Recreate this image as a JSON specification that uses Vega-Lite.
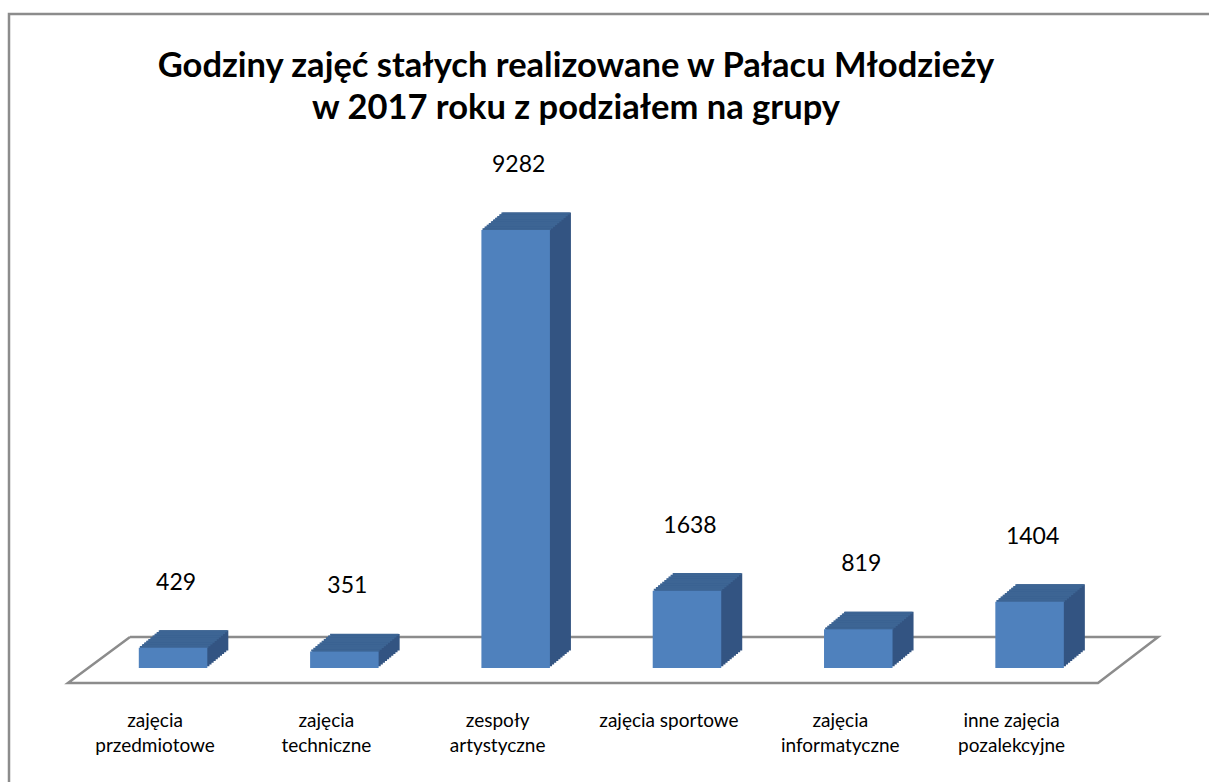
{
  "$schema": "https://vega.github.io/schema/vega-lite/v6.json",
  "width": 1206,
  "height": 776,
  "autosize": {"type": "none"},
  "padding": {"left": 9, "top": 14, "right": 0, "bottom": 0},
  "background": "white",
  "config": {"view": {"stroke": "#8c8c8c", "strokeWidth": 2.5}, "font": "Lato"},
  "title": {
    "text": ["Godziny zajęć stałych realizowane w Pałacu Młodzieży", "w 2017 roku z podziałem na grupy"],
    "font": "Lato",
    "fontSize": 34.5,
    "fontWeight": "bold",
    "color": "#000000",
    "lineHeight": 42,
    "baseline": "alphabetic",
    "anchor": "middle",
    "dx": -36,
    "offset": -139
  },
  "datasets": {
    "grupy": [
      {"grupa": "zajęcia przedmiotowe", "godziny": 429, "etykieta": "zajęcia\nprzedmiotowe"},
      {"grupa": "zajęcia techniczne", "godziny": 351, "etykieta": "zajęcia\ntechniczne"},
      {"grupa": "zespoły artystyczne", "godziny": 9282, "etykieta": "zespoły\nartystyczne"},
      {"grupa": "zajęcia sportowe", "godziny": 1638, "etykieta": "zajęcia sportowe"},
      {"grupa": "zajęcia informatyczne", "godziny": 819, "etykieta": "zajęcia\ninformatyczne"},
      {"grupa": "inne zajęcia pozalekcyjne", "godziny": 1404, "etykieta": "inne zajęcia\npozalekcyjne"}
    ],
    "podloga": [
      {"punkt": 0, "pozycja": -0.2516, "wartosc": 657},
      {"punkt": 1, "pozycja": 5.750, "wartosc": 657},
      {"punkt": 2, "pozycja": 5.399, "wartosc": -318},
      {"punkt": 3, "pozycja": -0.614, "wartosc": -318},
      {"punkt": 4, "pozycja": -0.2516, "wartosc": 657}
    ]
  },
  "layer": [
    {
      "data": {"name": "podloga"},
      "mark": {"type": "line", "color": "#8c8c8c", "strokeWidth": 2.5, "strokeJoin": "miter"},
      "encoding": {
        "x": {"field": "pozycja", "type": "quantitative", "axis": null, "scale": {"domain": [-0.958, 6.082], "nice": false, "zero": false}},
        "y": {"field": "wartosc", "type": "quantitative", "axis": null, "scale": {"domain": [-2585, 13860], "nice": false}},
        "order": {"field": "punkt", "type": "quantitative"}
      }
    },
    {
      "data": {"name": "grupy"},
      "encoding": {
        "x": {"field": "grupa", "type": "nominal", "sort": null, "axis": null,
              "scale": {"paddingInner": 0.6, "paddingOuter": 0.82, "align": 0.462}},
        "y": {"field": "godziny", "type": "quantitative", "axis": null, "scale": {"domain": [-2585, 13860], "nice": false}}
      },
      "layer": [
        {"mark": {"type": "bar", "color": "#335482", "xOffset": 2.1, "yOffset": -1.75}},
        {"mark": {"type": "bar", "color": "#335482", "xOffset": 4.2, "yOffset": -3.5}},
        {"mark": {"type": "bar", "color": "#335482", "xOffset": 6.3, "yOffset": -5.25}},
        {"mark": {"type": "bar", "color": "#335482", "xOffset": 8.4, "yOffset": -7}},
        {"mark": {"type": "bar", "color": "#335482", "xOffset": 10.5, "yOffset": -8.75}},
        {"mark": {"type": "bar", "color": "#335482", "xOffset": 12.6, "yOffset": -10.5}},
        {"mark": {"type": "bar", "color": "#335482", "xOffset": 14.7, "yOffset": -12.25}},
        {"mark": {"type": "bar", "color": "#335482", "xOffset": 16.8, "yOffset": -14}},
        {"mark": {"type": "bar", "color": "#335482", "xOffset": 18.9, "yOffset": -15.75}},
        {"mark": {"type": "bar", "color": "#335482", "xOffset": 21, "yOffset": -17.5}},
        {"mark": {"type": "tick", "color": "#3d6594", "size": 68.5, "thickness": 2, "opacity": 1, "xOffset": 1.05, "yOffset": -0.875}},
        {"mark": {"type": "tick", "color": "#3d6594", "size": 68.5, "thickness": 2, "opacity": 1, "xOffset": 3.15, "yOffset": -2.625}},
        {"mark": {"type": "tick", "color": "#3d6594", "size": 68.5, "thickness": 2, "opacity": 1, "xOffset": 5.25, "yOffset": -4.375}},
        {"mark": {"type": "tick", "color": "#3d6594", "size": 68.5, "thickness": 2, "opacity": 1, "xOffset": 7.35, "yOffset": -6.125}},
        {"mark": {"type": "tick", "color": "#3d6594", "size": 68.5, "thickness": 2, "opacity": 1, "xOffset": 9.45, "yOffset": -7.875}},
        {"mark": {"type": "tick", "color": "#3d6594", "size": 68.5, "thickness": 2, "opacity": 1, "xOffset": 11.55, "yOffset": -9.625}},
        {"mark": {"type": "tick", "color": "#3d6594", "size": 68.5, "thickness": 2, "opacity": 1, "xOffset": 13.65, "yOffset": -11.375}},
        {"mark": {"type": "tick", "color": "#3d6594", "size": 68.5, "thickness": 2, "opacity": 1, "xOffset": 15.75, "yOffset": -13.125}},
        {"mark": {"type": "tick", "color": "#3d6594", "size": 68.5, "thickness": 2, "opacity": 1, "xOffset": 17.85, "yOffset": -14.875}},
        {"mark": {"type": "tick", "color": "#3d6594", "size": 68.5, "thickness": 2, "opacity": 1, "xOffset": 19.95, "yOffset": -16.625}},
        {"mark": {"type": "bar", "color": "#4f81bd"}},
        {
          "mark": {"type": "text", "fontSize": 23, "font": "Lato", "color": "#000000", "baseline": "middle", "align": "center", "dx": 3, "dy": -65},
          "encoding": {"text": {"field": "godziny", "type": "quantitative", "format": "d"}}
        },
        {
          "mark": {"type": "text", "fontSize": 19, "font": "Lato", "color": "#000000", "baseline": "alphabetic", "align": "center", "dx": -18, "lineBreak": "\n", "lineHeight": 25},
          "encoding": {
            "y": {"datum": -1250},
            "text": {"field": "etykieta", "type": "nominal"}
          }
        }
      ]
    }
  ],
  "resolve": {"scale": {"x": "independent"}}
}
